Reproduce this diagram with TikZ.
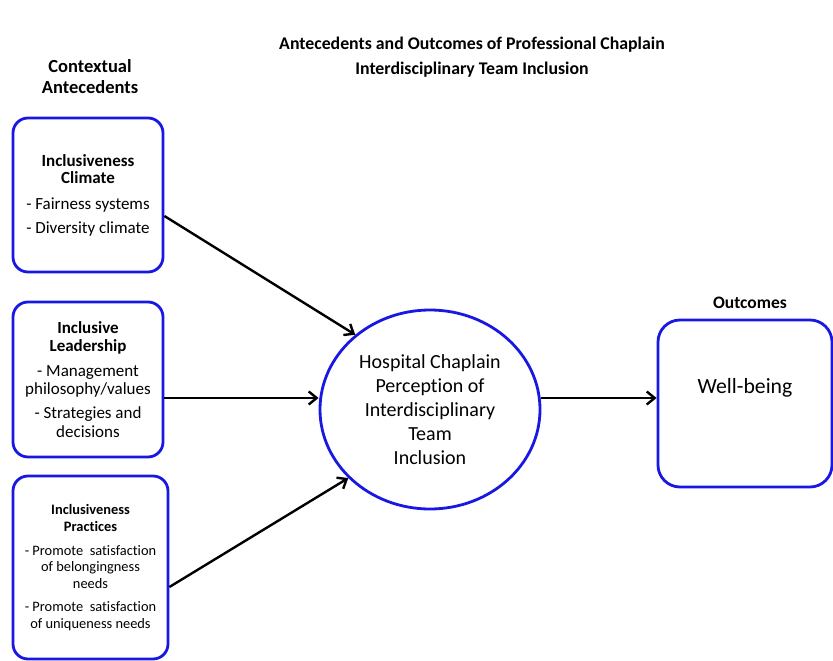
\documentclass[tikz,border=0pt]{standalone}
\usepackage{fontspec}
\setmainfont[Ligatures=NoCommon]{Carlito}
\usetikzlibrary{arrows.meta,shapes}
\definecolor{chapblue}{RGB}{24,24,226}
\newcommand{\fsz}[2]{\fontsize{#1}{#2}\selectfont}
\tikzset{
    antebox/.style={draw=chapblue,line width=2.8pt,rounded corners=15pt,align=center,inner sep=0pt},
    heading/.style={font=\bfseries\fsz{18.5}{21},align=center},
    link/.style={-{Straight Barb[length=8pt,width=13pt]},line width=2.4pt}
}

\begin{document}
\begin{tikzpicture}[x=1pt,y=-1pt]
                \useasboundingbox(0, 0)rectangle(833, 661);
                \node[heading,font=\bfseries\fsz{17.8}{25.5}](Title)at(472, 57){Antecedents and Outcomes of Professional Chaplain\\Interdisciplinary Team Inclusion};
                \node[heading](Antecedents)at(90, 77){Contextual\\Antecedents};
                \node[heading,font=\bfseries\fsz{17.5}{21}](Outcomes)at(750, 303){Outcomes};
                \node[antebox,minimum width=150pt,minimum height=154pt,font=\fsz{17}{17.5}](climate)at(88, 195){\textbf{Inclusiveness}\\\textbf{Climate}\\[8pt]- Fairness systems\\[6.5pt]- Diversity climate};
                \node[antebox,minimum width=150pt,minimum height=155pt,font=\fsz{17}{18.5}](leadership)at(88, 379.5){\textbf{Inclusive}\\\textbf{Leadership}\\[6pt]- Management\\philosophy/values\\[5.5pt]- Strategies and\\decisions};
                \node[antebox,minimum width=155pt,minimum height=183pt,font=\fsz{14.4}{16.8}](practices)at(90.5, 567.5){\textbf{Inclusiveness}\\\textbf{Practices}\\[7pt]- Promote~ satisfaction\\of belongingness\\needs\\[6pt]- Promote~ satisfaction\\of uniqueness needs};
                \node[ellipse,draw=chapblue,line width=2.8pt,minimum width=220pt,minimum height=199pt,inner sep=0pt,align=center,font=\fsz{20}{24}](inclusion)at(430, 409.5){Hospital Chaplain\\Perception of\\Interdisciplinary\\Team\\Inclusion};
                \node[antebox,rounded corners=22pt,minimum width=174pt,minimum height=167pt,label={[font=\fsz{21.7}{25},yshift=15.5pt]center:Well-being}](wellbeing)at(745, 403.5){};
                \path[link]([yshift=-21pt]climate.east) edge (inclusion.135)
                ([yshift=-18.5pt]leadership.east) edge ([yshift=11.5pt]inclusion.west)
                ([yshift=-19.5pt]practices.east) edge (inclusion.220)
                ([yshift=11.5pt]inclusion.east) edge ([yshift=5.5pt]wellbeing.west);
            \end{tikzpicture}
\end{document}
